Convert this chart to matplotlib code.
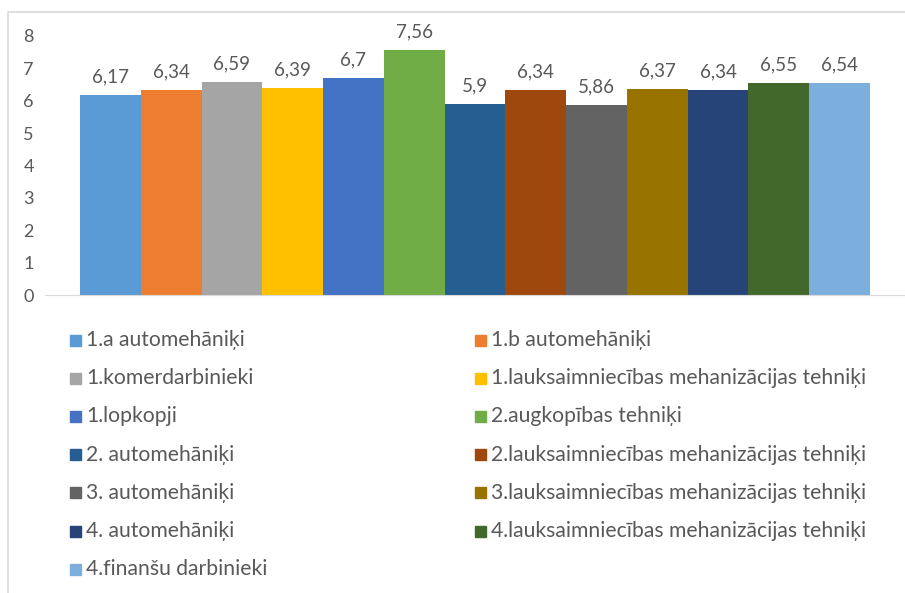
import matplotlib
matplotlib.use("Agg")
import matplotlib.pyplot as plt
from matplotlib.patches import Rectangle

groups = [
    "1.a automehāniķi",
    "1.b automehāniķi",
    "1.komerdarbinieki",
    "1.lauksaimniecības mehanizācijas tehniķi",
    "1.lopkopji",
    "2.augkopības tehniķi",
    "2. automehāniķi",
    "2.lauksaimniecības mehanizācijas tehniķi",
    "3. automehāniķi",
    "3.lauksaimniecības mehanizācijas tehniķi",
    "4. automehāniķi",
    "4.lauksaimniecības mehanizācijas tehniķi",
    "4.finanšu darbinieki",
]
values = [6.17, 6.34, 6.59, 6.39, 6.7, 7.56, 5.9, 6.34, 5.86, 6.37, 6.34, 6.55, 6.54]
colors = ["#5B9BD5", "#ED7D31", "#A5A5A5", "#FFC000", "#4472C4", "#70AD47", "#255E91",
          "#9E480E", "#636363", "#997300", "#264478", "#43682B", "#7CAFDD"]
yticks = [0, 1, 2, 3, 4, 5, 6, 7, 8]

plt.rcParams["font.family"] = ["Lato", "DejaVu Sans"]
txt = "#595959"

W, H = 905, 593
fig = plt.figure(figsize=(W / 100, H / 100), dpi=100)
ax = fig.add_axes([45 / W, (H - 295) / H, 860 / W, (295 - 36) / H])

x = list(range(len(values)))
ax.bar(x, values, width=1.0, color=colors)
for xi, v in zip(x, values):
    ax.text(xi, v + 0.3, ("%g" % v).replace(".", ","), ha="center", va="bottom",
            fontsize=13.5, color=txt)

ax.set_xlim(-1.076, 13.076)
ax.set_ylim(0, 8)
ax.set_yticks(yticks)
ax.set_yticklabels([str(t) for t in yticks], fontsize=13, color=txt)
ax.tick_params(axis="y", length=0, pad=8)
ax.set_xticks([])
for s in ["top", "right", "left"]:
    ax.spines[s].set_visible(False)
ax.spines["bottom"].set_color("#D9D9D9")

# chart border
fig.patches.append(Rectangle((8 / W, -0.1), 1.2, (H - 12) / H + 0.1, transform=fig.transFigure,
                             fill=False, edgecolor="#D9D9D9", linewidth=1.2))

# legend, two columns, row-wise order
for i, (g, c) in enumerate(zip(groups, colors)):
    row, col = divmod(i, 2)
    mx = 70 if col == 0 else 475
    my = 340 + row * 38.2
    fig.patches.append(Rectangle((mx / W, (H - my - 5.5) / H), 11 / W, 11 / H,
                                 transform=fig.transFigure, color=c))
    fig.text((mx + 16) / W, (H - my) / H, g, ha="left", va="center", fontsize=15.2, color=txt)

fig.savefig("out.png", dpi=100)
